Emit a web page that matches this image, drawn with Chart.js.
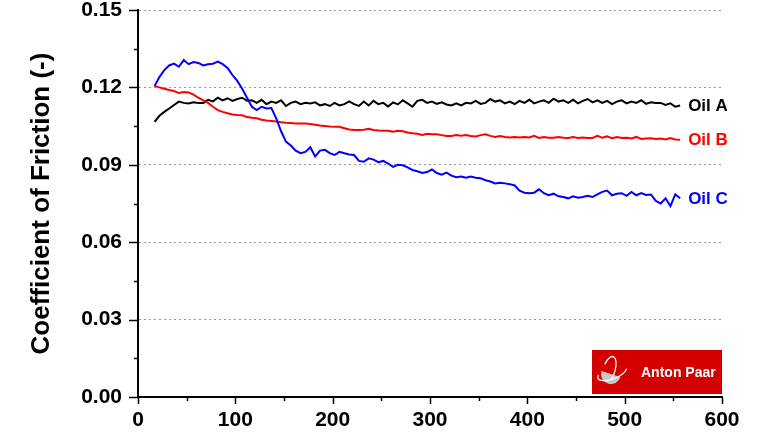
<!DOCTYPE html>
<html>
<head>
<meta charset="utf-8">
<script src="https://cdn.jsdelivr.net/npm/chart.js@4/dist/chart.umd.min.js"></script>
<style>
  html, body { margin: 0; padding: 0; background: #fff; }
  canvas { display: block; }
</style>
</head>
<body>
<canvas id="c" width="768" height="432"></canvas>
<script>
// sliding time (s)
const times = [17, 22, 27, 32, 37, 42, 47, 52, 57, 62, 67, 72, 77, 82, 87, 92, 97, 102, 107, 112,
  117, 122, 127, 132, 137, 142, 147, 152, 157, 162, 167, 172, 177, 182, 187, 192, 197, 202, 207, 212,
  217, 222, 227, 232, 237, 242, 247, 252, 257, 262, 267, 272, 277, 282, 287, 292, 297, 302, 307, 312,
  317, 322, 327, 332, 337, 342, 347, 352, 357, 362, 367, 372, 377, 382, 387, 392, 397, 402, 407, 412,
  417, 422, 427, 432, 437, 442, 447, 452, 457, 462, 467, 472, 477, 482, 487, 492, 497, 502, 507, 512,
  517, 522, 527, 532, 537, 542, 547, 552, 557]

const oilA = [0.1066, 0.1090, 0.1105, 0.1118, 0.1132, 0.1145, 0.1140, 0.1138, 0.1142, 0.1140,
  0.1140, 0.1152, 0.1146, 0.1160, 0.1150, 0.1158, 0.1148, 0.1155, 0.1160, 0.1148,
  0.1150, 0.1140, 0.1152, 0.1135, 0.1145, 0.1140, 0.1150, 0.1128, 0.1140, 0.1145,
  0.1135, 0.1140, 0.1138, 0.1142, 0.1130, 0.1135, 0.1128, 0.1140, 0.1130, 0.1135,
  0.1146, 0.1135, 0.1128, 0.1145, 0.1130, 0.1148, 0.1135, 0.1140, 0.1126, 0.1142,
  0.1134, 0.1150, 0.1138, 0.1125, 0.1148, 0.1152, 0.1140, 0.1145, 0.1136, 0.1142,
  0.1134, 0.1130, 0.1138, 0.1130, 0.1140, 0.1138, 0.1148, 0.1136, 0.1140, 0.1155,
  0.1145, 0.1150, 0.1138, 0.1145, 0.1135, 0.1148, 0.1140, 0.1152, 0.1138, 0.1145,
  0.1150, 0.1140, 0.1156, 0.1145, 0.1150, 0.1140, 0.1152, 0.1138, 0.1148, 0.1155,
  0.1142, 0.1150, 0.1140, 0.1148, 0.1135, 0.1145, 0.1150, 0.1138, 0.1145, 0.1140,
  0.1150, 0.1136, 0.1142, 0.1140, 0.1140, 0.1132, 0.1138, 0.1125, 0.1130]

const oilB = [0.1205, 0.1200, 0.1195, 0.1190, 0.1186, 0.1178, 0.1182, 0.1180, 0.1172, 0.1160,
  0.1150, 0.1140, 0.1125, 0.1112, 0.1105, 0.1100, 0.1095, 0.1093, 0.1092, 0.1085,
  0.1082, 0.1080, 0.1075, 0.1072, 0.1070, 0.1068, 0.1065, 0.1063, 0.1062, 0.1060,
  0.1060, 0.1060, 0.1058, 0.1055, 0.1052, 0.1050, 0.1048, 0.1047, 0.1047, 0.1042,
  0.1037, 0.1035, 0.1035, 0.1036, 0.1040, 0.1035, 0.1033, 0.1032, 0.1032, 0.1028,
  0.1032, 0.1030, 0.1025, 0.1022, 0.1020, 0.1016, 0.1020, 0.1018, 0.1018, 0.1015,
  0.1012, 0.1012, 0.1015, 0.1013, 0.1015, 0.1012, 0.1010, 0.1015, 0.1018, 0.1012,
  0.1008, 0.1012, 0.1008, 0.1006, 0.1008, 0.1006, 0.1008, 0.1006, 0.1012, 0.1004,
  0.1008, 0.1005, 0.1005, 0.1008, 0.1005, 0.1004, 0.1008, 0.1004, 0.1006, 0.1004,
  0.1004, 0.1012, 0.1005, 0.1010, 0.1003, 0.1008, 0.1004, 0.1005, 0.1002, 0.1008,
  0.1000, 0.1002, 0.1003, 0.1000, 0.1002, 0.0998, 0.1004, 0.0998, 0.0997]

const oilC = [0.1205, 0.1240, 0.1267, 0.1285, 0.1292, 0.1280, 0.1306, 0.1290, 0.1298, 0.1295,
  0.1285, 0.1290, 0.1292, 0.1300, 0.1290, 0.1275, 0.1248, 0.1225, 0.1195, 0.1160,
  0.1125, 0.1112, 0.1125, 0.1118, 0.1120, 0.1080, 0.1030, 0.0990, 0.0975, 0.0955,
  0.0945, 0.0950, 0.0968, 0.0932, 0.0955, 0.0958, 0.0945, 0.0938, 0.0950, 0.0945,
  0.0940, 0.0938, 0.0915, 0.0912, 0.0925, 0.0920, 0.0910, 0.0915, 0.0905, 0.0892,
  0.0900, 0.0898, 0.0890, 0.0880, 0.0875, 0.0868, 0.0872, 0.0882, 0.0868, 0.0862,
  0.0870, 0.0858, 0.0852, 0.0855, 0.0850, 0.0855, 0.0850, 0.0848, 0.0840, 0.0835,
  0.0828, 0.0830, 0.0828, 0.0825, 0.0820, 0.0800, 0.0792, 0.0790, 0.0792, 0.0805,
  0.0790, 0.0782, 0.0788, 0.0778, 0.0775, 0.0770, 0.0778, 0.0772, 0.0775, 0.0780,
  0.0775, 0.0785, 0.0795, 0.0800, 0.0782, 0.0788, 0.0790, 0.0780, 0.0795, 0.0782,
  0.0790, 0.0783, 0.0785, 0.0760, 0.0750, 0.0770, 0.0740, 0.0785, 0.0770]

const seriesNames = ['Oil A', 'Oil B', 'Oil C']
const seriesColors = ['#000000', '#ff0000', '#0000ff']
const yTitle = 'Coefficient of Friction (-)'
const brand = 'Anton Paar'

const FONT = '"Liberation Sans", Arial, sans-serif'

const toPoints = ys => ys.map((y, i) => ({ x: times[i], y }))

// minor/major tick marks, series labels and the logo box
const decorations = {
  id: 'decorations',
  afterDraw (chart) {
    const { ctx, chartArea, scales } = chart
    const xs = scales.x
    const ys = scales.y
    ctx.save()
    ctx.strokeStyle = '#000'
    ctx.lineWidth = 1.5
    ctx.beginPath()
    for (let v = 0; v <= 600; v += 50) {
      const px = Math.round(xs.getPixelForValue(v)) + 0.5
      const len = v % 100 === 0 ? 7 : 4
      ctx.moveTo(px, chartArea.bottom)
      ctx.lineTo(px, chartArea.bottom + len)
    }
    for (let k = 0; k <= 10; k++) {
      const py = Math.round(ys.getPixelForValue(k * 0.015)) + 0.5
      const len = k % 2 === 0 ? 9 : 4
      ctx.moveTo(chartArea.left, py)
      ctx.lineTo(chartArea.left - len, py)
    }
    ctx.stroke()

    // series labels next to line ends
    ctx.font = 'bold 17px ' + FONT
    ctx.textAlign = 'left'
    ctx.textBaseline = 'middle'
    chart.data.datasets.forEach((ds, i) => {
      const meta = chart.getDatasetMeta(i)
      const last = meta.data[meta.data.length - 1]
      ctx.fillStyle = seriesColors[i]
      ctx.fillText(seriesNames[i], last.x + 8, last.y + 1)
    })

    // logo box
    const w = 130
    const h = 44
    const bx = chartArea.right - w
    const by = chartArea.bottom - h - 3
    ctx.fillStyle = '#d40000'
    ctx.fillRect(bx, by, w, h)
    const cx = bx + 19
    const cy = by + h / 2 + 2
    ctx.fillStyle = '#c8c8c8'
    ctx.beginPath()
    ctx.arc(cx, cy, 10, 0.1 * Math.PI, 1.1 * Math.PI)
    ctx.fill()
    ctx.strokeStyle = '#fff'
    ctx.lineWidth = 1.3
    ctx.beginPath()
    ctx.ellipse(cx + 1, cy - 1, 15, 6, -0.35, Math.PI * 0.05, Math.PI * 1.15)
    ctx.stroke()
    ctx.beginPath()
    ctx.ellipse(cx - 2, cy - 4, 6, 14, 0.3, Math.PI * 1.1, Math.PI * 2.2)
    ctx.stroke()
    ctx.fillStyle = '#fff'
    ctx.font = 'bold 14px ' + FONT
    ctx.fillText(brand, bx + 49, by + h / 2 + 1)
    ctx.restore()
  }
}

const chart = new Chart(document.getElementById('c'), {
  type: 'line',
  data: {
    datasets: [oilA, oilB, oilC].map((ys, i) => ({
      label: seriesNames[i],
      data: toPoints(ys),
      borderColor: seriesColors[i],
      borderWidth: 2,
      pointRadius: 0,
      tension: 0,
      order: 2 - i
    }))
  },
  options: {
    responsive: false,
    animation: false,
    events: [],
    layout: { autoPadding: false, padding: { left: 0, right: 46, top: 10, bottom: 0 } },
    plugins: {
      legend: { display: false },
      tooltip: { enabled: false }
    },
    scales: {
      x: {
        type: 'linear',
        min: 0,
        max: 600,
        ticks: {
          stepSize: 100,
          color: '#000',
          padding: 11,
          maxRotation: 0,
          font: { family: FONT, size: 21, weight: 'bold' }
        },
        grid: { display: false, drawTicks: false },
        border: { display: true, color: '#000', width: 2 },
        afterFit: s => {
          s.height = 35
          s.paddingLeft = 0
          s.paddingRight = 0
        }
      },
      y: {
        min: 0,
        max: 0.15,
        ticks: {
          stepSize: 0.03,
          color: '#000',
          padding: 16,
          callback: v => v.toFixed(2),
          font: { family: FONT, size: 21, weight: 'bold' }
        },
        grid: { color: '#9a9a9a', lineWidth: 1, drawTicks: false },
        border: { display: true, color: '#000', width: 2, dash: [2, 3] },
        title: {
          display: true,
          text: yTitle,
          color: '#000',
          padding: { top: 26, bottom: 0 },
          font: { family: FONT, size: 26, weight: 'bold', lineHeight: 1.2 }
        },
        afterFit: s => {
          s.width = 138
          s.paddingTop = 0
          s.paddingBottom = 0
        }
      }
    }
  },
  plugins: [decorations]
})
</script>
</body>
</html>
